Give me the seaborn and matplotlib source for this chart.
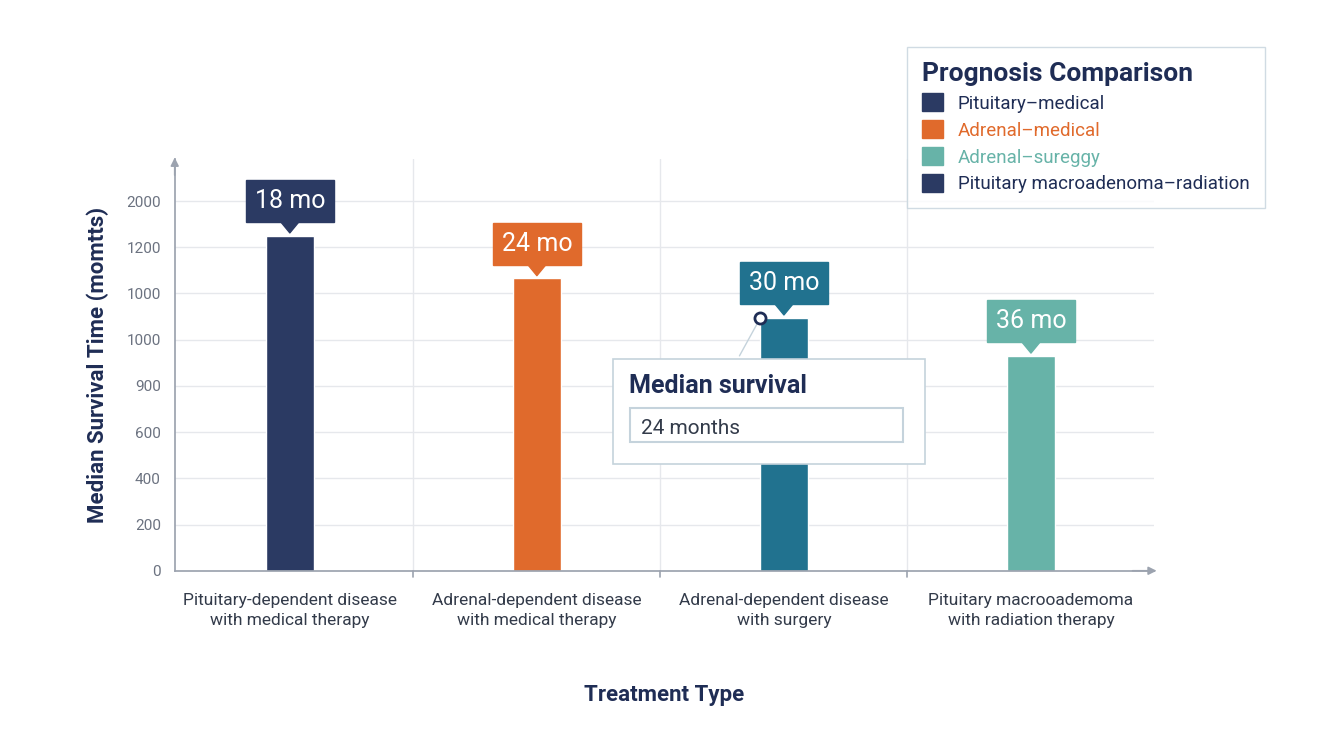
import matplotlib
matplotlib.use("Agg")
from matplotlib import pyplot as plt
from matplotlib.patches import Patch, FancyBboxPatch
import seaborn as sns
import pandas as pd

# data (bar heights in axis units)
categories = ["Pituitary-dependent disease\nwith medical therapy",
              "Adrenal-dependent disease\nwith medical therapy",
              "Adrenal-dependent disease\nwith surgery",
              "Pituitary macrooademoma\nwith radiation therapy"]
heights = [1450, 1265, 1095, 930]
bar_labels = ["18 mo", "24 mo", "30 mo", "36 mo"]
colors = ["#2b3a63", "#e06a2c", "#21728f", "#67b3a8"]
legend_names = ["Pituitary\u2013medical", "Adrenal\u2013medical",
                "Adrenal\u2013sureggy", "Pituitary macroadenoma\u2013radiation"]
legend_colors = ["#2b3a63", "#e06a2c", "#67b3a8", "#2b3a63"]
ytick_pos = [0, 200, 400, 600, 800, 1000, 1200, 1400, 1600]
ytick_labels = ["0", "200", "400", "600", "900", "1000", "1000", "1200", "2000"]

sns.set_theme(style="white")
plt.rcParams['font.family'] = ['Roboto', 'DejaVu Sans']

df = pd.DataFrame({"cat": categories, "h": heights})
fig = plt.figure(figsize=(13.44, 7.52), dpi=100)
ax = fig.add_axes([0.130, 0.241, 0.729, 0.547])
sns.barplot(data=df, x="cat", y="h", hue="cat", palette=colors, width=0.195,
            legend=False, ax=ax, saturation=1)

ax.set_xlim(-0.466, 3.5)
ax.set_ylim(0, 1780)
ax.set_yticks(ytick_pos)
ax.set_yticklabels(ytick_labels, color="#6b7280", fontsize=11)
ax.set_xticks(range(4))
ax.set_xticklabels(categories, linespacing=1.45)
ax.tick_params(axis="x", labelsize=12.5, colors="#333b4a", length=0, pad=16)
ax.tick_params(axis="y", length=0, pad=10)
for y in ytick_pos[1:]:
    ax.axhline(y, color="#e6e8ec", lw=1, zorder=0)
for x in [0.5, 1.5, 2.5]:
    ax.axvline(x, color="#e6e8ec", lw=1, zorder=0)
    ax.plot([x, x], [0, -25], color="#9ca3af", lw=1.2, clip_on=False)
for s in ["top", "right"]:
    ax.spines[s].set_visible(False)
for s in ["left", "bottom"]:
    ax.spines[s].set_color("#9ca3af")
ax.annotate("", xy=(3.52, 0), xytext=(3.4, 0),
            arrowprops=dict(arrowstyle="-|>", color="#9ca3af", lw=1.2), annotation_clip=False)
ax.annotate("", xy=(-0.466, 1800), xytext=(-0.466, 1700),
            arrowprops=dict(arrowstyle="-|>", color="#9ca3af", lw=1.2), annotation_clip=False)
ax.set_xlabel("Treatment Type", fontsize=16, fontweight="bold", color="#1f2d55", labelpad=40)
ax.set_ylabel("Median Survival Time (momtts)", fontsize=16, fontweight="bold", color="#1f2d55", labelpad=12)

for i, (h, lab, c) in enumerate(zip(heights, bar_labels, colors)):
    ax.annotate(lab, xy=(i, h), xytext=(i, h + 150), ha="center", va="center",
                fontsize=18, color="white",
                bbox=dict(boxstyle="square,pad=0.35", fc=c, ec=c),
                arrowprops=dict(arrowstyle="wedge,tail_width=0.7", fc=c, ec=c, shrinkA=0, shrinkB=2))

# tooltip box
fig.patches.append(FancyBboxPatch((0.456, 0.383), 0.232, 0.14, boxstyle="square,pad=0",
                                  transform=fig.transFigure, fc="white", ec="#c5d3dc", lw=1.2))
fig.patches.append(FancyBboxPatch((0.469, 0.412), 0.203, 0.045, boxstyle="square,pad=0",
                                  transform=fig.transFigure, fc="white", ec="#c5d3dc", lw=1.5))
fig.text(0.468, 0.478, "Median survival", fontsize=18, fontweight="bold", color="#1f2d55")
fig.text(0.477, 0.423, "24 months", fontsize=15, color="#333b4a")
ax.plot([2 - 0.095], [1095], "o", ms=8, mfc="white", mec="#1f2d55", mew=2, zorder=5)
ax.plot([1.905, 1.82], [1095, 930], color="#c5d3dc", lw=1)

handles = [Patch(color=c) for c in legend_colors]
leg = fig.legend(handles, legend_names, loc="upper left", bbox_to_anchor=(0.668, 0.95),
                 title="Prognosis Comparison", frameon=True, fontsize=13.5,
                 handlelength=1.1, handleheight=1.1, borderpad=0.8, labelspacing=0.4,
                 fancybox=False, edgecolor="#c5d3dc", alignment="left")
leg.get_title().set_fontsize(19)
leg.get_title().set_fontweight("bold")
leg.get_title().set_color("#1f2d55")
for t, c in zip(leg.get_texts(), ["#1f2d55", "#e06a2c", "#67b3a8", "#1f2d55"]):
    t.set_color(c)

fig.savefig("out.png", dpi=100, facecolor="white")
